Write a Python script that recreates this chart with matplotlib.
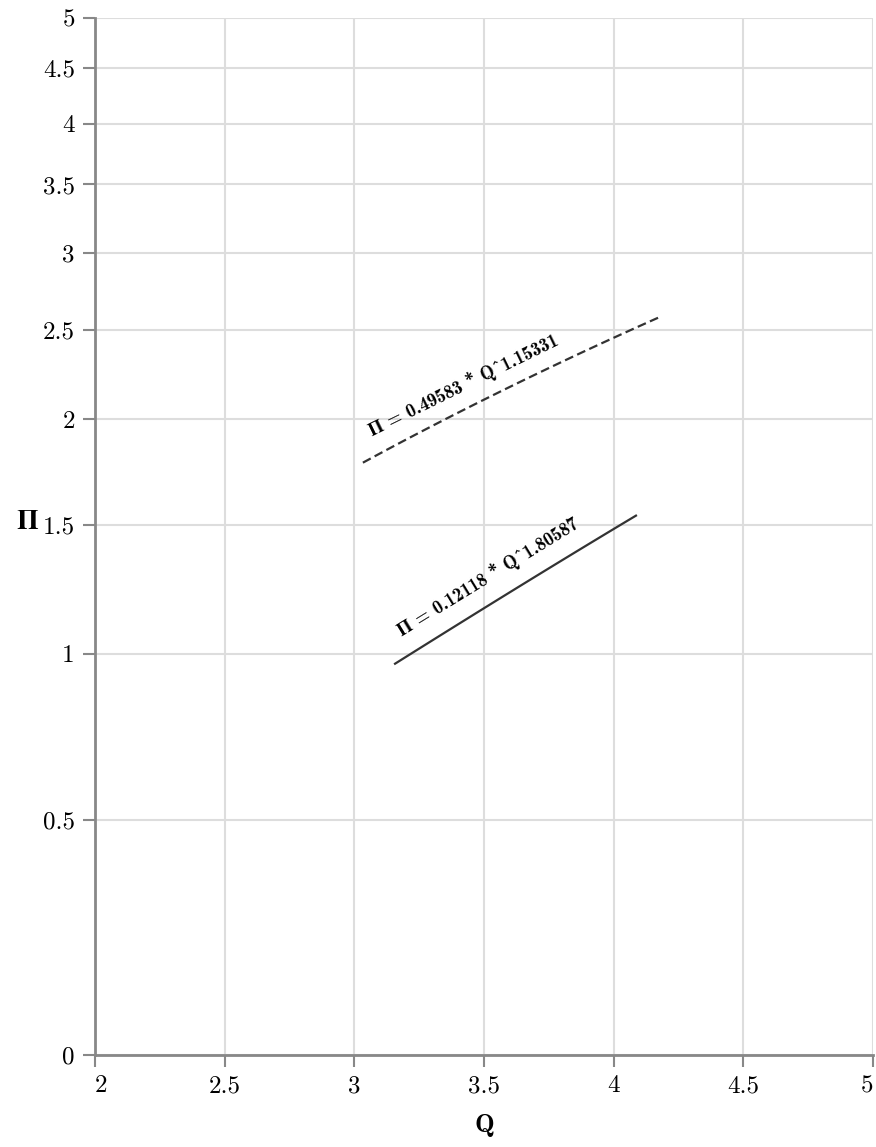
import numpy as np
import matplotlib
matplotlib.use("Agg")
import matplotlib.pyplot as plt
from matplotlib.transforms import IdentityTransform

# power-law fits  Pi = a * Q^b, drawn over the Q range they cover
fit_a = [0.49583, 0.12118]
fit_b = [1.15331, 1.80587]
fit_q_start = [3.033, 3.157]
fit_q_end = [4.186, 4.086]

x_ticks = [2, 2.5, 3, 3.5, 4, 4.5, 5]
y_ticks = [0, 0.5, 1, 1.5, 2, 2.5, 3, 3.5, 4, 4.5, 5]

plt.rcParams["font.family"] = ["cmr10", "STIXGeneral"]
plt.rcParams["axes.formatter.use_mathtext"] = True

fig = plt.figure(figsize=(8.76, 11.47), dpi=100)
ax = fig.add_axes([95 / 876, 1 - 1055 / 1147, 778 / 876, 1037 / 1147])

# y axis uses a log(1 + y) scale
ax.set_yscale("function", functions=(np.log1p, np.expm1))
ax.set_xlim(2, 5)
ax.set_ylim(0, 5)
ax.set_xticks(x_ticks)
ax.set_yticks(y_ticks)
ax.set_xticklabels([f"{v:g}" for v in x_ticks])
ax.set_yticklabels([f"{v:g}" for v in y_ticks])
ax.get_xticklabels()[0].set_ha("left")
ax.get_xticklabels()[-1].set_ha("right")

ax.grid(True, color="#dddddd", linewidth=1.5)
ax.set_axisbelow(True)
for side in ["top", "right"]:
    ax.spines[side].set_visible(False)
for side in ["left", "bottom"]:
    ax.spines[side].set_color("#888888")
    ax.spines[side].set_linewidth(2)
ax.tick_params(length=8.5, width=1.5, color="#888888", pad=6, labelsize=18, labelcolor="black")

ax.set_xlabel("Q", fontsize=19, fontweight="bold", family=["cmb10", "STIXGeneral"], labelpad=12)
ax.set_ylabel("Π", fontsize=20, fontweight="bold", family=["cmb10", "STIXGeneral"], rotation=0, va="center", ha="center")
ax.yaxis.set_label_coords(-0.087, 0.514)

styles = [dict(linestyle=(0, (4, 2))), dict(linestyle="-")]
for a, b, q0, q1, st in zip(fit_a, fit_b, fit_q_start, fit_q_end, styles):
    q = np.linspace(q0, q1, 40)
    ax.plot(q, a * q ** b, color="#333333", linewidth=1.6, **st)

    # equation label, parallel to the line and a little above it
    p0 = ax.transData.transform((q0, a * q0 ** b))
    p1 = ax.transData.transform((q1, a * q1 ** b))
    d = p1 - p0
    u = d / np.hypot(*d)
    n = np.array([-u[1], u[0]])
    pos = p0 + 20 * u + 19 * n
    ang = np.degrees(np.arctan2(d[1], d[0]))
    fig.text(pos[0], pos[1], f"Π = {a:.5f} * Q^{b:.5f}", transform=IdentityTransform(),
             rotation=ang, rotation_mode="anchor", ha="left", va="baseline",
             fontsize=13.5, fontweight="bold", family=["cmb10", "STIXGeneral"])

fig.savefig("out.png", dpi=100)
